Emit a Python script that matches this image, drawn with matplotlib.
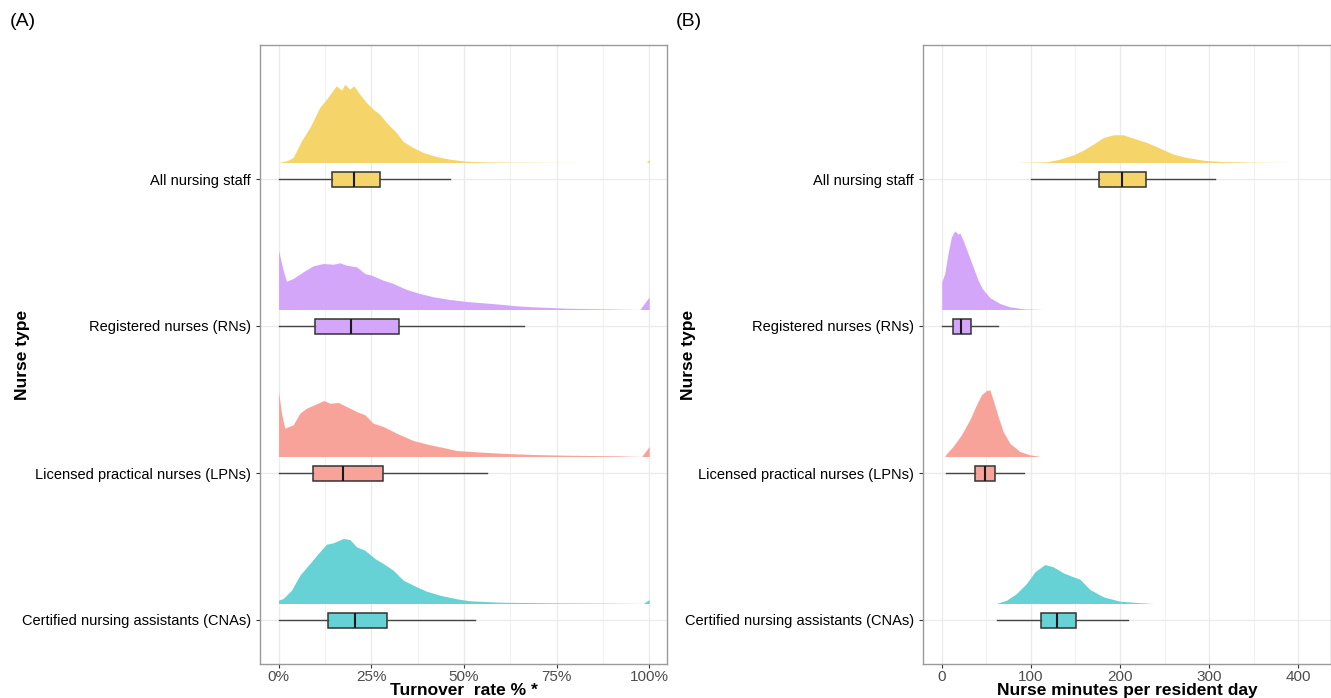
import matplotlib
matplotlib.use("Agg")
import matplotlib.pyplot as plt
import numpy as np

plt.rcParams['font.family'] = ['Liberation Sans', 'DejaVu Sans']

categories = ["Certified nursing assistants (CNAs)", "Licensed practical nurses (LPNs)",
              "Registered nurses (RNs)", "All nursing staff"]
colors = ["#66D2D5", "#F8A39A", "#D4A6FA", "#F5D46A"]

# ---------------- Panel A: turnover rate (fraction) ----------------
a_cna_x = [0, 0.0125, 0.035, 0.0575, 0.0845, 0.107, 0.1294, 0.1474, 0.1744, 0.1924, 0.2104, 0.2329,
           0.2599, 0.2824, 0.3094, 0.3364, 0.3724, 0.3993, 0.4353, 0.4803, 0.5163, 0.5972, 0.7321,
           0.912, 0.984, 1.0]
a_cna_d = [3.3, 5, 13.3, 28.3, 40, 50, 59.3, 60.7, 65, 64, 56.7, 53.3, 45, 40, 33.3, 23.3, 16.7,
           12.3, 8.3, 4.7, 2.7, 1.3, 0.7, 0.3, 0, 4]
a_lpn_x = [0, 0.008, 0.017, 0.0395, 0.0575, 0.0755, 0.1024, 0.1222, 0.1384, 0.1609, 0.1834, 0.2104,
           0.2329, 0.2554, 0.2824, 0.3184, 0.3634, 0.4083, 0.4443, 0.4803, 0.5343, 0.5972, 0.6871,
           0.7771, 0.9121, 0.9796, 1.0]
a_lpn_d = [65, 43.3, 28.3, 31.7, 43.3, 48.3, 52.7, 56, 53.3, 54, 50, 45, 41.7, 33.3, 30, 23.3, 16,
           11.7, 9, 6, 4.7, 3.3, 2, 1.3, 0.7, 0, 10]
a_rn_x = [0, 0.0125, 0.0215, 0.0395, 0.0665, 0.0935, 0.1204, 0.1474, 0.1654, 0.1834, 0.2104, 0.2329,
          0.2509, 0.2824, 0.3094, 0.3454, 0.3813, 0.4173, 0.4623, 0.5073, 0.5522, 0.5972, 0.6422,
          0.6871, 0.7771, 0.867, 0.9749, 1.0]
a_rn_d = [59.3, 39.3, 28.3, 31, 37.7, 43.7, 46, 45.3, 46.7, 44.3, 42.7, 36, 34.3, 29.3, 26, 20, 16,
          12.7, 10, 8, 6.7, 5.3, 3.7, 2.7, 1.3, 0.7, 0, 12.7]
a_all_x = [0, 0.0215, 0.0395, 0.062, 0.0845, 0.111, 0.1294, 0.156, 0.17, 0.179, 0.192, 0.203, 0.219,
           0.237, 0.255, 0.273, 0.291, 0.318, 0.336, 0.363, 0.39, 0.426, 0.462, 0.507, 0.552, 0.642,
           0.822, 0.993, 1.0]
a_all_d = [0, 1.7, 5, 21.7, 35, 55, 63.3, 76.7, 72.3, 78.3, 73.3, 76.7, 68.3, 60, 53.3, 48.3, 40, 30,
           21, 15, 10, 6, 3.3, 1.3, 0.7, 0.3, 0, 0, 3.3]

# box stats: whisker low, Q1, median, Q3, whisker high
a_box = {
    "CNA": [0.0, 0.134, 0.206, 0.293, 0.530],
    "LPN": [0.0, 0.0926, 0.1744, 0.2806, 0.562],
    "RN":  [0.0, 0.098, 0.195, 0.3246, 0.662],
    "All": [0.0, 0.1447, 0.2024, 0.2725, 0.463],
}

# ---------------- Panel B: nurse minutes per resident day ----------------
b_cna_x = [61.4, 72.7, 83.9, 95.1, 104.5, 115.7, 125.1, 136.3, 147.6, 155.1, 166.3, 181.3, 200, 218.7, 237.5]
b_cna_d = [0, 3.3, 10, 20, 31.7, 39, 36.7, 30.7, 26.7, 24.3, 14, 6.7, 2.3, 1, 0]
b_lpn_x = [3.4, 5.2, 12.7, 22.1, 31.5, 39, 44.6, 50.2, 53.9, 57.7, 63.3, 68.9, 76.4, 87.6, 98.9, 110.9]
b_lpn_d = [0, 2.7, 10, 21.7, 36.7, 51.7, 61.7, 66, 66.7, 56.7, 40, 25, 13.3, 5, 1.7, 0]
b_rn_x = [0, 3.4, 7.1, 10.9, 14.6, 18.4, 20.2, 24, 29.6, 35.2, 40.8, 45.4, 53.9, 65.2, 76.4, 91.4, 113.9]
b_rn_d = [27.7, 36, 56, 72.7, 78.7, 75.3, 76.7, 69.3, 56, 42.7, 29.3, 21, 12, 6, 2.7, 0.7, 0]
b_all_x = [83.9, 117.6, 132.6, 147.6, 158.8, 170, 181.3, 192.5, 203.7, 215, 230, 244.9, 259.9, 274.9,
           293.6, 312.4, 349.8, 394.8]
b_all_d = [0, 0.7, 3.3, 7.7, 12.3, 18.3, 25, 27.7, 27.7, 24.3, 20, 14.3, 8.3, 5, 2.3, 1, 0.3, 0]

b_box = {
    "CNA": [61.8, 111, 129, 150.6, 209],
    "LPN": [4.5, 37, 49, 59.6, 92],
    "RN":  [0.5, 12.7, 21.3, 33.3, 63.3],
    "All": [99.6, 176.8, 201.9, 229.6, 307],
}

a_ticks = [0, 0.25, 0.5, 0.75, 1.0]
a_ticklabels = ["0%", "25%", "50%", "75%", "100%"]
b_ticks = [0, 100, 200, 300, 400]
b_ticklabels = ["0", "100", "200", "300", "400"]

fig = plt.figure(figsize=(13.31, 6.98), dpi=100)
axA = fig.add_axes([260 / 1331, 34 / 698, 407 / 1331, 619 / 698])
axB = fig.add_axes([923 / 1331, 34 / 698, 408 / 1331, 619 / 698])

PX = 147.0          # pixels per category unit
BASE = 16.5 / PX    # slab baseline offset
BOXW = 15 / PX      # box height


def draw(ax, dens, boxes, xlim, minor, ticks, ticklabels, xlabel, ylab_x):
    keys = ["CNA", "LPN", "RN", "All"]
    for i, k in enumerate(keys):
        y = i + 1
        x, d = dens[i]
        x = np.asarray(x)
        d = np.asarray(d) / PX
        ax.fill_between(x, y + BASE, y + BASE + d, color=colors[i], lw=0, zorder=2)
        w = boxes[k]
        st = [dict(whislo=w[0], q1=w[1], med=w[2], q3=w[3], whishi=w[4])]
        ax.bxp(st, positions=[y], widths=BOXW, vert=False, showcaps=False, showfliers=False,
               patch_artist=True,
               boxprops=dict(facecolor=colors[i], edgecolor="#333333", lw=1.1),
               medianprops=dict(color="#1a1a1a", lw=1.5),
               whiskerprops=dict(color="#444444", lw=1.0), manage_ticks=False, zorder=3)
    ax.set_xlim(*xlim)
    ax.set_ylim(1 - 44 / PX, 4 + 134 / PX)
    ax.set_yticks([1, 2, 3, 4])
    ax.set_yticklabels(categories, fontsize=10.5, color="black")
    ax.set_xticks(ticks)
    ax.set_xticklabels(ticklabels, fontsize=11, color="#4d4d4d")
    ax.set_xticks(minor, minor=True)
    ax.grid(True, which="major", color="#ebebeb", lw=1.0, zorder=0)
    ax.grid(True, which="minor", axis="x", color="#f2f2f2", lw=0.8, zorder=0)
    ax.set_axisbelow(True)
    ax.tick_params(axis="both", which="major", length=3, color="#333333", width=0.8)
    ax.tick_params(axis="x", which="major", pad=1.5)
    ax.tick_params(axis="x", which="minor", length=0)
    for s in ax.spines.values():
        s.set_color("#9a9a9a")
        s.set_linewidth(1.0)
    ax.set_xlabel(xlabel, fontsize=12.5, fontweight="bold")
    ax.xaxis.set_label_coords(0.5, -19 / 619)
    ax.set_ylabel("Nurse type", fontsize=12.5, fontweight="bold")
    ax.yaxis.set_label_coords(ylab_x, 0.5)
    ax.yaxis.label.set_va("center")


draw(axA, [(a_cna_x, a_cna_d), (a_lpn_x, a_lpn_d), (a_rn_x, a_rn_d), (a_all_x, a_all_d)],
     a_box, (-0.05, 1.048), [0.125, 0.375, 0.625, 0.875], a_ticks, a_ticklabels,
     "Turnover  rate % *", (22 - 260) / 407)
draw(axB, [(b_cna_x, b_cna_d), (b_lpn_x, b_lpn_d), (b_rn_x, b_rn_d), (b_all_x, b_all_d)],
     b_box, (-21, 436.7), [50, 150, 250, 350], b_ticks, b_ticklabels,
     "Nurse minutes per resident day", (688 - 923) / 408)

fig.text(10 / 1331, 1 - 22 / 698, "(A)", fontsize=14, va="center", ha="left")
fig.text(676 / 1331, 1 - 22 / 698, "(B)", fontsize=14, va="center", ha="left")

fig.savefig("out.png", dpi=100)
